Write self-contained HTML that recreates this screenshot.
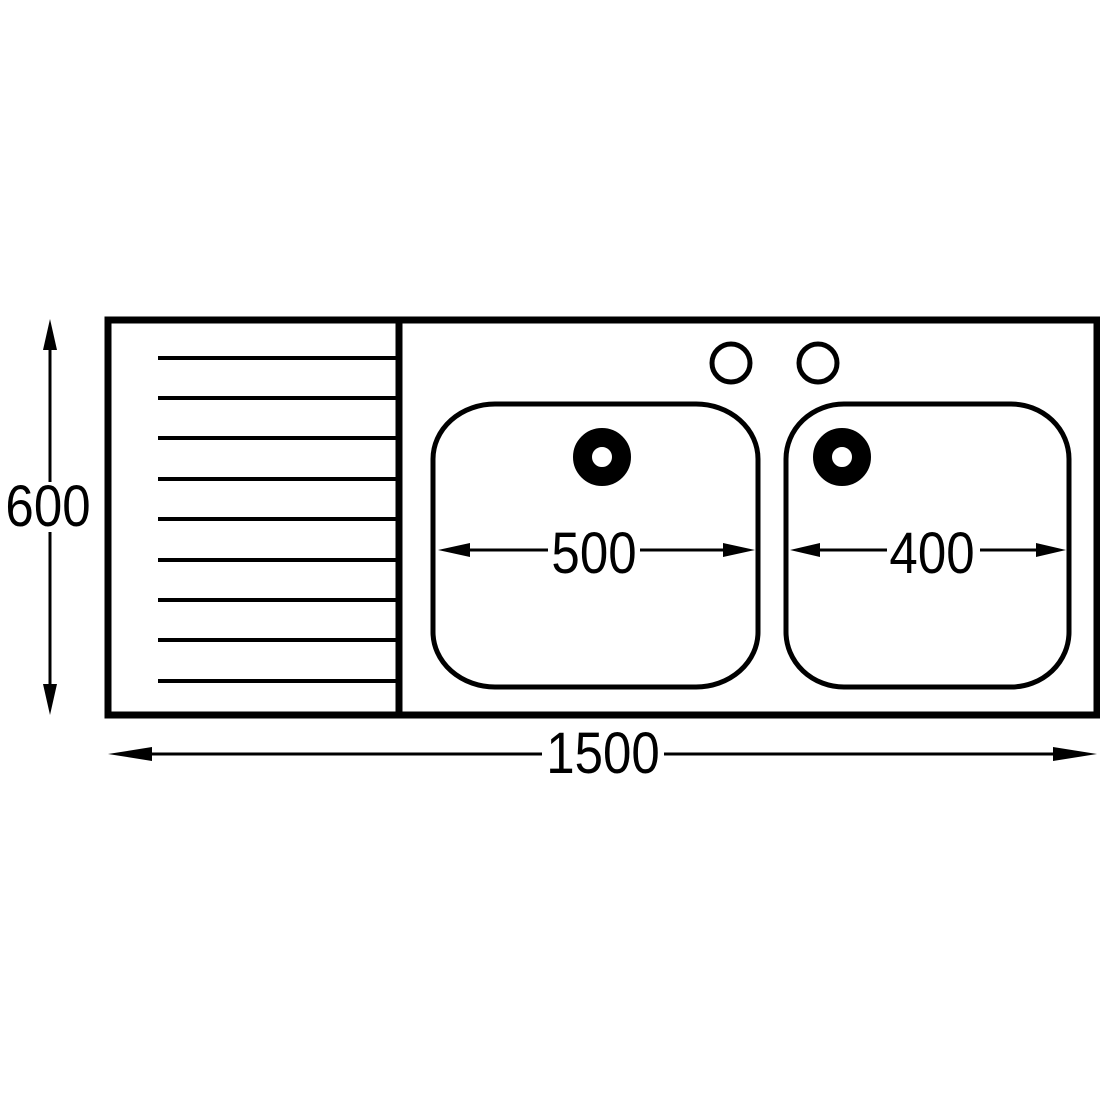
<!DOCTYPE html>
<html><head><style>body{margin:0;background:#fff}svg{display:block}</style></head>
<body>
<svg width="1100" height="1100" viewBox="0 0 1100 1100" xmlns="http://www.w3.org/2000/svg">
<rect width="1100" height="1100" fill="#fff"/>
<g fill="none" stroke="#000">
<rect x="108" y="320" width="989" height="395" stroke-width="7"/>
<line x1="399" y1="320" x2="399" y2="715" stroke-width="7"/>
<g stroke-width="4">
<line x1="158" y1="358" x2="397" y2="358"/>
<line x1="158" y1="398" x2="397" y2="398"/>
<line x1="158" y1="438" x2="397" y2="438"/>
<line x1="158" y1="479" x2="397" y2="479"/>
<line x1="158" y1="519" x2="397" y2="519"/>
<line x1="158" y1="560" x2="397" y2="560"/>
<line x1="158" y1="600" x2="397" y2="600"/>
<line x1="158" y1="640" x2="397" y2="640"/>
<line x1="158" y1="681" x2="397" y2="681"/>
</g>
<rect x="433" y="404" width="325" height="283" rx="62" ry="55" stroke-width="5"/>
<rect x="786" y="404" width="283" height="283" rx="58" ry="55" stroke-width="5"/>
<circle cx="731" cy="363" r="19" stroke-width="5"/>
<circle cx="818" cy="363" r="19" stroke-width="5"/>
<circle cx="602" cy="457" r="19.5" stroke-width="19"/>
<circle cx="842" cy="457" r="19.5" stroke-width="19"/>
<g stroke-width="3">
<line x1="450" y1="550" x2="548" y2="550"/>
<line x1="640" y1="550" x2="745" y2="550"/>
<line x1="800" y1="550" x2="887" y2="550"/>
<line x1="980" y1="550" x2="1055" y2="550"/>
<line x1="130" y1="754" x2="542" y2="754"/>
<line x1="664" y1="754" x2="1075" y2="754"/>
<line x1="50" y1="340" x2="50" y2="482"/>
<line x1="50" y1="532" x2="50" y2="695"/>
</g>
</g>
<g fill="#000">
<polygon points="438,550 470,543 470,557"/>
<polygon points="755,550 723,543 723,557"/>
<polygon points="790,550 820,543 820,557"/>
<polygon points="1066,550 1036,543 1036,557"/>
<polygon points="108,754 152,747 152,761"/>
<polygon points="1097,754 1053,747 1053,761"/>
<polygon points="50,319 43,350 57,350"/>
<polygon points="50,715 43,684 57,684"/>
</g>
<g font-family="Liberation Sans, sans-serif" font-size="58" text-anchor="middle" fill="#000">
<text transform="translate(594,573) scale(0.88,1)">500</text>
<text transform="translate(932,573) scale(0.88,1)">400</text>
<text transform="translate(603,773) scale(0.88,1)">1500</text>
<text transform="translate(48,526) scale(0.88,1)">600</text>
</g>
</svg>
</body></html>
